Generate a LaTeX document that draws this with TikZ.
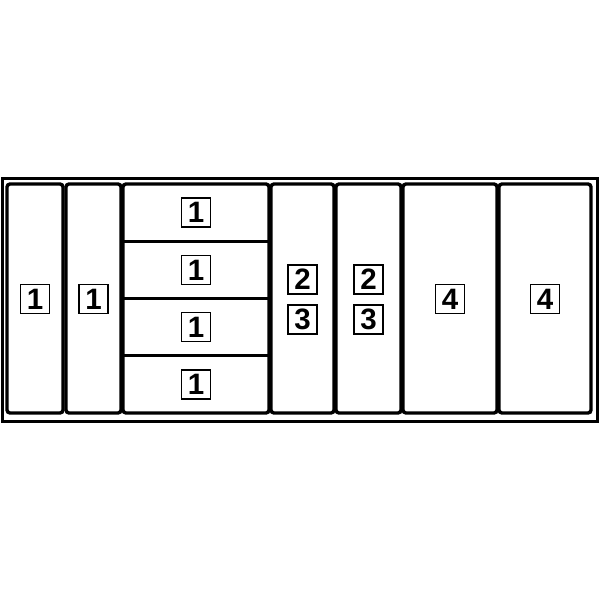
\documentclass[tikz,border=0pt]{standalone}
\usepackage{fontspec}
\setmainfont{Liberation Sans}
\begin{document}
\begin{tikzpicture}[x=1pt,y=-1pt,
  frame/.style={line width=3pt},
  comp/.style={line width=3.4pt,rounded corners=3pt},
  divider/.style={line width=3.4pt},
  tag/.style={draw,line width=1.4pt,minimum width=29pt,minimum height=29pt,inner sep=0pt,
    font=\fontsize{29.5}{29.5}\selectfont\bfseries}]
\useasboundingbox (0,0) rectangle (600,600);
\draw[frame] (2,178) rectangle (597,421);
\draw[comp] (7,184) rectangle (63,413);
\draw[comp] (66,184) rectangle (121,413);
\draw[comp] (123,184) rectangle (269,413);
\draw[divider] (123,241.25) -- (269,241.25);
\draw[divider] (123,298.5) -- (269,298.5);
\draw[divider] (123,355.75) -- (269,355.75);
\draw[comp] (271,184) rectangle (334,413);
\draw[comp] (336,184) rectangle (401,413);
\draw[comp] (403,184) rectangle (497,413);
\draw[comp] (499,184) rectangle (591,413);
\node[tag] (a1) at (35,299) {1};
\node[tag] (a2) at (93.5,299) {1};
\node[tag] (c1) at (196,212.5) {1};
\node[tag] (c2) at (196,270) {1};
\node[tag] (c3) at (196,327) {1};
\node[tag] (c4) at (196,384.5) {1};
\node[tag] (d2) at (302.5,279.5) {2};
\node[tag] (d3) at (302.5,319.5) {3};
\node[tag] (e2) at (368.5,279.5) {2};
\node[tag] (e3) at (368.5,319.5) {3};
\node[tag] (f4) at (450,299) {4};
\node[tag] (g4) at (545,299) {4};
\end{tikzpicture}
\end{document}
